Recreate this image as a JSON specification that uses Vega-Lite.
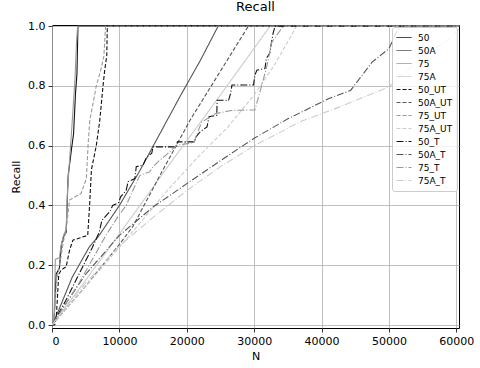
{
  "$schema": "https://vega.github.io/schema/vega-lite/v6.json",
  "width": 407,
  "height": 303,
  "autosize": {"type": "none"},
  "padding": {"left": 52, "top": 25, "right": 21, "bottom": 40},
  "title": {"text": "Recall", "fontSize": 13, "fontWeight": "normal", "font": "DejaVu Sans", "color": "black", "offset": 6},
  "config": {
    "font": "DejaVu Sans",
    "view": {"stroke": "black", "strokeWidth": 1},
    "axis": {
      "domain": false,
      "grid": true,
      "gridColor": "#b0b0b0",
      "gridWidth": 0.8,
      "tickColor": "black",
      "tickSize": 4,
      "tickWidth": 0.8,
      "labelFontSize": 11,
      "labelColor": "black",
      "labelPadding": 3,
      "titleFontSize": 11,
      "titleFontWeight": "normal",
      "titleColor": "black"
    }
  },
  "data": {"values": [
    {"s":"50","n":0,"r":0},{"s":"50","n":300,"r":0.01},{"s":"50","n":600,"r":0.17},{"s":"50","n":1100,"r":0.19},{"s":"50","n":1400,"r":0.27},{"s":"50","n":1800,"r":0.30},{"s":"50","n":2100,"r":0.31},{"s":"50","n":2400,"r":0.50},{"s":"50","n":2900,"r":0.59},{"s":"50","n":3200,"r":0.64},{"s":"50","n":3500,"r":0.78},{"s":"50","n":3700,"r":0.84},{"s":"50","n":3850,"r":1.0},{"s":"50","n":60390,"r":1.0},
    {"s":"50A","n":0,"r":0},{"s":"50A","n":1000,"r":0.05},{"s":"50A","n":3000,"r":0.16},{"s":"50A","n":5500,"r":0.26},{"s":"50A","n":7000,"r":0.30},{"s":"50A","n":10000,"r":0.40},{"s":"50A","n":13000,"r":0.515},{"s":"50A","n":16000,"r":0.64},{"s":"50A","n":19000,"r":0.765},{"s":"50A","n":22000,"r":0.885},{"s":"50A","n":24650,"r":1.0},{"s":"50A","n":60390,"r":1.0},
    {"s":"75","n":0,"r":0},{"s":"75","n":300,"r":0.02},{"s":"75","n":500,"r":0.22},{"s":"75","n":1100,"r":0.225},{"s":"75","n":1300,"r":0.26},{"s":"75","n":1700,"r":0.30},{"s":"75","n":2100,"r":0.32},{"s":"75","n":2300,"r":0.45},{"s":"75","n":2600,"r":0.55},{"s":"75","n":3000,"r":0.68},{"s":"75","n":3400,"r":0.82},{"s":"75","n":3650,"r":0.95},{"s":"75","n":3800,"r":1.0},{"s":"75","n":60390,"r":1.0},
    {"s":"75A","n":0,"r":0},{"s":"75A","n":5000,"r":0.15},{"s":"75A","n":10000,"r":0.305},{"s":"75A","n":17500,"r":0.54},{"s":"75A","n":25000,"r":0.77},{"s":"75A","n":32350,"r":1.0},{"s":"75A","n":60390,"r":1.0},
    {"s":"50_UT","n":0,"r":0},{"s":"50_UT","n":400,"r":0.0},{"s":"50_UT","n":650,"r":0.03},{"s":"50_UT","n":1000,"r":0.17},{"s":"50_UT","n":1400,"r":0.185},{"s":"50_UT","n":2100,"r":0.195},{"s":"50_UT","n":2600,"r":0.25},{"s":"50_UT","n":3100,"r":0.284},{"s":"50_UT","n":5300,"r":0.30},{"s":"50_UT","n":5600,"r":0.41},{"s":"50_UT","n":5850,"r":0.52},{"s":"50_UT","n":6570,"r":0.60},{"s":"50_UT","n":7080,"r":0.683},{"s":"50_UT","n":7570,"r":0.80},{"s":"50_UT","n":7820,"r":0.853},{"s":"50_UT","n":8120,"r":0.90},{"s":"50_UT","n":8210,"r":1.0},{"s":"50_UT","n":60390,"r":1.0},
    {"s":"50A_UT","n":0,"r":0},{"s":"50A_UT","n":5000,"r":0.13},{"s":"50A_UT","n":10000,"r":0.27},{"s":"50A_UT","n":12000,"r":0.33},{"s":"50A_UT","n":16000,"r":0.50},{"s":"50A_UT","n":20500,"r":0.686},{"s":"50A_UT","n":25000,"r":0.85},{"s":"50A_UT","n":29130,"r":1.0},{"s":"50A_UT","n":60390,"r":1.0},
    {"s":"75_UT","n":0,"r":0},{"s":"75_UT","n":300,"r":0.02},{"s":"75_UT","n":700,"r":0.15},{"s":"75_UT","n":1200,"r":0.21},{"s":"75_UT","n":1700,"r":0.28},{"s":"75_UT","n":2100,"r":0.318},{"s":"75_UT","n":2600,"r":0.418},{"s":"75_UT","n":4300,"r":0.44},{"s":"75_UT","n":5100,"r":0.49},{"s":"75_UT","n":5350,"r":0.60},{"s":"75_UT","n":5600,"r":0.683},{"s":"75_UT","n":6570,"r":0.80},{"s":"75_UT","n":7230,"r":0.853},{"s":"75_UT","n":7700,"r":0.90},{"s":"75_UT","n":7950,"r":1.0},{"s":"75_UT","n":60390,"r":1.0},
    {"s":"75A_UT","n":0,"r":0},{"s":"75A_UT","n":5000,"r":0.13},{"s":"75A_UT","n":10000,"r":0.26},{"s":"75A_UT","n":17500,"r":0.46},{"s":"75A_UT","n":22000,"r":0.57},{"s":"75A_UT","n":26000,"r":0.66},{"s":"75A_UT","n":30000,"r":0.77},{"s":"75A_UT","n":33000,"r":0.87},{"s":"75A_UT","n":36300,"r":1.0},{"s":"75A_UT","n":60390,"r":1.0},
    {"s":"50_T","n":0,"r":0},{"s":"50_T","n":2000,"r":0.08},{"s":"50_T","n":4000,"r":0.17},{"s":"50_T","n":6000,"r":0.26},{"s":"50_T","n":7000,"r":0.31},{"s":"50_T","n":7400,"r":0.35},{"s":"50_T","n":8600,"r":0.38},{"s":"50_T","n":9000,"r":0.40},{"s":"50_T","n":9900,"r":0.41},{"s":"50_T","n":10200,"r":0.43},{"s":"50_T","n":11000,"r":0.45},{"s":"50_T","n":11300,"r":0.48},{"s":"50_T","n":12300,"r":0.49},{"s":"50_T","n":12500,"r":0.53},{"s":"50_T","n":13500,"r":0.535},{"s":"50_T","n":14000,"r":0.56},{"s":"50_T","n":14800,"r":0.575},{"s":"50_T","n":15000,"r":0.596},{"s":"50_T","n":18500,"r":0.596},{"s":"50_T","n":18600,"r":0.613},{"s":"50_T","n":21200,"r":0.613},{"s":"50_T","n":21400,"r":0.63},{"s":"50_T","n":22000,"r":0.647},{"s":"50_T","n":23000,"r":0.663},{"s":"50_T","n":23300,"r":0.697},{"s":"50_T","n":24450,"r":0.702},{"s":"50_T","n":24500,"r":0.752},{"s":"50_T","n":26200,"r":0.752},{"s":"50_T","n":26500,"r":0.775},{"s":"50_T","n":26700,"r":0.803},{"s":"50_T","n":29900,"r":0.803},{"s":"50_T","n":30100,"r":0.836},{"s":"50_T","n":30400,"r":0.853},{"s":"50_T","n":31600,"r":0.858},{"s":"50_T","n":31800,"r":0.892},{"s":"50_T","n":32300,"r":0.909},{"s":"50_T","n":32800,"r":0.976},{"s":"50_T","n":33100,"r":1.0},{"s":"50_T","n":60390,"r":1.0},
    {"s":"50A_T","n":0,"r":0},{"s":"50A_T","n":2000,"r":0.07},{"s":"50A_T","n":5000,"r":0.17},{"s":"50A_T","n":10000,"r":0.30},{"s":"50A_T","n":15000,"r":0.395},{"s":"50A_T","n":20000,"r":0.473},{"s":"50A_T","n":25000,"r":0.55},{"s":"50A_T","n":30000,"r":0.625},{"s":"50A_T","n":35000,"r":0.69},{"s":"50A_T","n":41000,"r":0.757},{"s":"50A_T","n":44300,"r":0.785},{"s":"50A_T","n":47500,"r":0.88},{"s":"50A_T","n":50000,"r":0.925},{"s":"50A_T","n":51100,"r":0.98},{"s":"50A_T","n":51900,"r":1.0},{"s":"50A_T","n":60390,"r":1.0},
    {"s":"75_T","n":0,"r":0},{"s":"75_T","n":2000,"r":0.07},{"s":"75_T","n":4000,"r":0.14},{"s":"75_T","n":6000,"r":0.22},{"s":"75_T","n":8000,"r":0.30},{"s":"75_T","n":10000,"r":0.37},{"s":"75_T","n":11000,"r":0.40},{"s":"75_T","n":12000,"r":0.45},{"s":"75_T","n":13000,"r":0.50},{"s":"75_T","n":14500,"r":0.513},{"s":"75_T","n":15000,"r":0.53},{"s":"75_T","n":16000,"r":0.552},{"s":"75_T","n":17000,"r":0.57},{"s":"75_T","n":18500,"r":0.602},{"s":"75_T","n":21000,"r":0.61},{"s":"75_T","n":22200,"r":0.679},{"s":"75_T","n":23000,"r":0.69},{"s":"75_T","n":24200,"r":0.707},{"s":"75_T","n":26600,"r":0.718},{"s":"75_T","n":30100,"r":0.72},{"s":"75_T","n":31100,"r":0.80},{"s":"75_T","n":31900,"r":0.868},{"s":"75_T","n":32600,"r":0.946},{"s":"75_T","n":34300,"r":1.0},{"s":"75_T","n":60390,"r":1.0},
    {"s":"75A_T","n":0,"r":0},{"s":"75A_T","n":2000,"r":0.06},{"s":"75A_T","n":5000,"r":0.14},{"s":"75A_T","n":10000,"r":0.265},{"s":"75A_T","n":15000,"r":0.36},{"s":"75A_T","n":20000,"r":0.45},{"s":"75A_T","n":25000,"r":0.53},{"s":"75A_T","n":30000,"r":0.60},{"s":"75A_T","n":36800,"r":0.68},{"s":"75A_T","n":42700,"r":0.73},{"s":"75A_T","n":50000,"r":0.797},{"s":"75A_T","n":55000,"r":0.90},{"s":"75A_T","n":59000,"r":0.958},{"s":"75A_T","n":60390,"r":0.99}
  ]},
  "mark": {"type": "line", "strokeWidth": 1.1, "clip": true},
  "encoding": {
    "x": {"field": "n", "type": "quantitative", "title": "N",
      "scale": {"domain": [0, 60390], "nice": false, "zero": false},
      "axis": {"values": [0,10000,20000,30000,40000,50000,60000], "format": "d", "titlePadding": 4}},
    "y": {"field": "r", "type": "quantitative", "title": "Recall",
      "scale": {"domain": [-0.01, 1.004], "nice": false, "zero": false},
      "axis": {"values": [0,0.2,0.4,0.6,0.8,1.0], "format": ".1f", "titlePadding": 6}},
    "color": {"field": "s", "type": "nominal",
      "scale": {"domain": ["50","50A","75","75A","50_UT","50A_UT","75_UT","75A_UT","50_T","50A_T","75_T","75A_T"],
        "range": ["#111111","#555555","#999999","#cccccc","#111111","#555555","#999999","#cccccc","#111111","#555555","#999999","#cccccc"]},
      "legend": {"title": null, "orient": "top-right", "offset": 2, "padding": 4,
        "fillColor": "rgba(255,255,255,0.8)", "strokeColor": "#cccccc", "cornerRadius": 2,
        "symbolType": "stroke", "symbolSize": 225, "symbolStrokeWidth": 1, "clipHeight": 13, "labelFontSize": 9, "labelColor": "black", "labelOffset": 6, "rowPadding": 0}},
    "strokeDash": {"field": "s", "type": "nominal",
      "scale": {"domain": ["50","50A","75","75A","50_UT","50A_UT","75_UT","75A_UT","50_T","50A_T","75_T","75A_T"],
        "range": [[1,0],[1,0],[1,0],[1,0],[4,2],[4,2],[4,2],[4,2],[7,2,1,2],[7,2,1,2],[7,2,1,2],[7,2,1,2]]}}
  }
}
